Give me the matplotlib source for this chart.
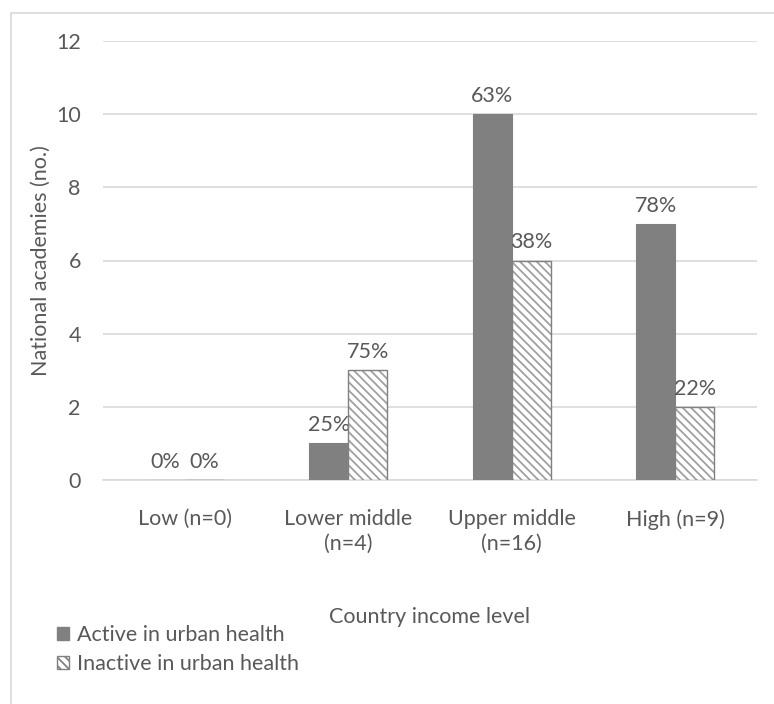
import matplotlib
matplotlib.use("Agg")
import matplotlib.pyplot as plt
from matplotlib.patches import Rectangle, Patch
import numpy as np

plt.rcParams['font.family'] = ['Lato', 'DejaVu Sans']
plt.rcParams['hatch.linewidth'] = 1.3

categories = ["Low (n=0)", "Lower middle\n(n=4)", "Upper middle\n(n=16)", "High (n=9)"]
active = [0, 1, 10, 7]
inactive = [0, 3, 6, 2]
active_pct = ["0%", "25%", "63%", "78%"]
inactive_pct = ["0%", "75%", "38%", "22%"]

txt = "#595959"
grey = "#808080"
hatch_grey = "#a0a0a0"
fs = 15.5

fig = plt.figure(figsize=(7.74, 7.04), dpi=100)
ax = fig.add_axes([103/774, 1 - 480/704, 654/774, 439/704])

# light frame round the whole chart
fig.patches.append(Rectangle((11/774, -0.1), 1.0, 1 - 13/704 + 0.1,
                             transform=fig.transFigure, fill=False,
                             edgecolor="#d9d9d9", linewidth=1.2))

x = np.arange(len(categories))
w = 0.24
b1 = ax.bar(x - w/2, active, w, color=grey, edgecolor=grey, linewidth=0.8, zorder=3)
# hatched fill first, then a darker outline on top
b2 = ax.bar(x + w/2, inactive, w, color="white", edgecolor=hatch_grey, hatch="\\\\\\\\",
            linewidth=0, zorder=3)
ax.bar(x + w/2, inactive, w, color="none", edgecolor=grey, linewidth=1.0, zorder=4)

for rect, lab in zip(b1, active_pct):
    ax.text(rect.get_x() + rect.get_width()/2, rect.get_height() + 0.22, lab,
            ha="center", va="bottom", fontsize=fs, color=txt)
for rect, lab in zip(b2, inactive_pct):
    ax.text(rect.get_x() + rect.get_width()/2, rect.get_height() + 0.22, lab,
            ha="center", va="bottom", fontsize=fs, color=txt)

ax.set_xlim(-0.5, 3.5)
ax.set_ylim(0, 12)
ax.set_yticks(range(0, 13, 2))
ax.set_xticks(x)
ax.set_xticklabels(categories, fontsize=fs, color=txt, linespacing=1.3)
ax.tick_params(axis="y", labelsize=fs, colors=txt, length=0, pad=16)
ax.tick_params(axis="x", length=0, pad=21)
ax.grid(axis="y", color="#d9d9d9", linewidth=1.2, zorder=0)
for s in ["top", "right", "left"]:
    ax.spines[s].set_visible(False)
ax.spines["bottom"].set_color("#d9d9d9")
ax.spines["bottom"].set_linewidth(1.2)

ax.set_ylabel("National academies (no.)", fontsize=fs, color=txt, labelpad=4)
ax.set_xlabel("Country income level", fontsize=fs, color=txt, labelpad=38)

handles = [Patch(facecolor=grey, edgecolor=grey, label="Active in urban health"),
           Patch(facecolor="white", edgecolor=grey, hatch="\\\\\\\\",
                 label="Inactive in urban health")]
leg = fig.legend(handles=handles, loc="upper left", bbox_to_anchor=(38/774, 1 - 606/704),
                 frameon=False, fontsize=fs, handlelength=0.55, handleheight=0.55,
                 handletextpad=0.35, labelspacing=0.4, labelcolor=txt)

fig.savefig("out.png", dpi=100)
